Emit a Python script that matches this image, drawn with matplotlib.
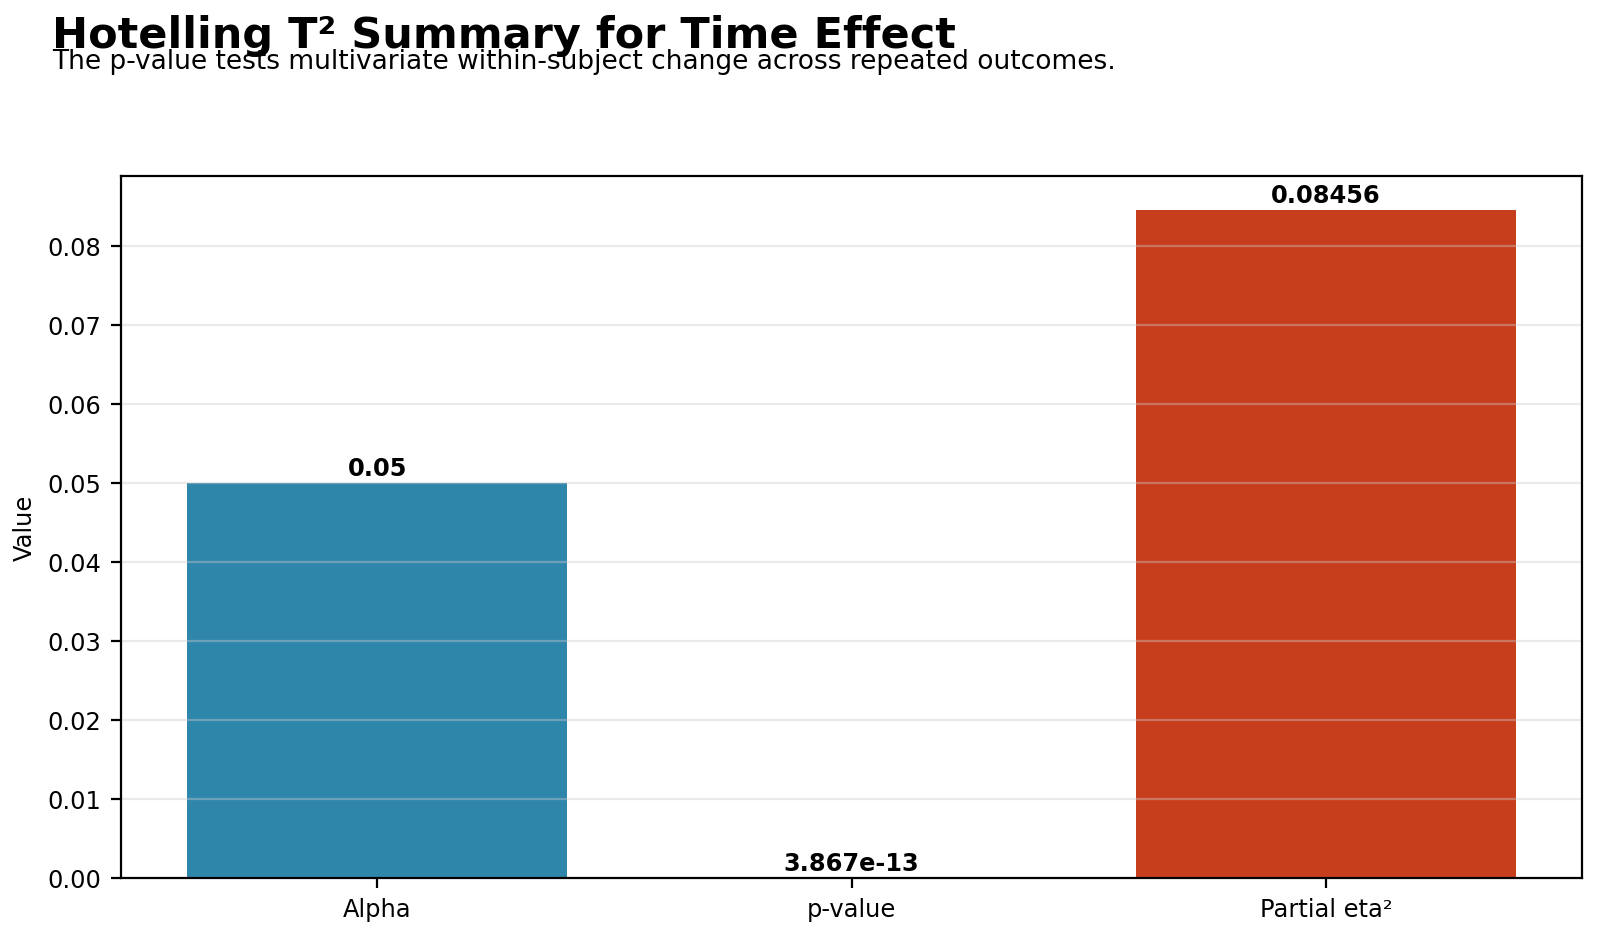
import matplotlib
matplotlib.use("Agg")
import matplotlib.pyplot as plt

categories = ["Alpha", "p-value", "Partial eta²"]
values = [0.05, 3.867e-13, 0.08456]
colors = ["#2E86AB", "#A23B72", "#C73E1D"]

title = "Hotelling T² Summary for Time Effect"
subtitle = "The p-value tests multivariate within-subject change across repeated outcomes."

plt.rcParams["font.family"] = ["DejaVu Sans"]

fig = plt.figure(figsize=(8, 4.685), dpi=200)
ax = fig.add_axes([0.0756, 0.0619, 0.9134, 0.7491])

x = list(range(len(categories)))
bars = ax.bar(x, values, width=0.8, color=colors)
ax.set_xticks(x)
ax.set_xticklabels(categories, fontsize=8.7)
ax.tick_params(axis="y", labelsize=8.7)
ax.set_ylabel("Value", fontsize=8.7)
ax.yaxis.grid(True, color="#cccccc", alpha=0.4, linewidth=0.8)
ax.xaxis.grid(False)

for b, v in zip(bars, values):
    ax.annotate(f"{v:.4g}", (b.get_x() + b.get_width() / 2, b.get_height()),
                xytext=(0, 1), textcoords="offset points",
                ha="center", va="bottom", fontsize=8.7, fontweight="bold")

fig.text(0.0325, 0.9485, title, fontsize=15.5, fontweight="bold", va="baseline", ha="left")
fig.text(0.0325, 0.926, subtitle, fontsize=9.5, va="baseline", ha="left")

fig.savefig("out.png", dpi=200)
